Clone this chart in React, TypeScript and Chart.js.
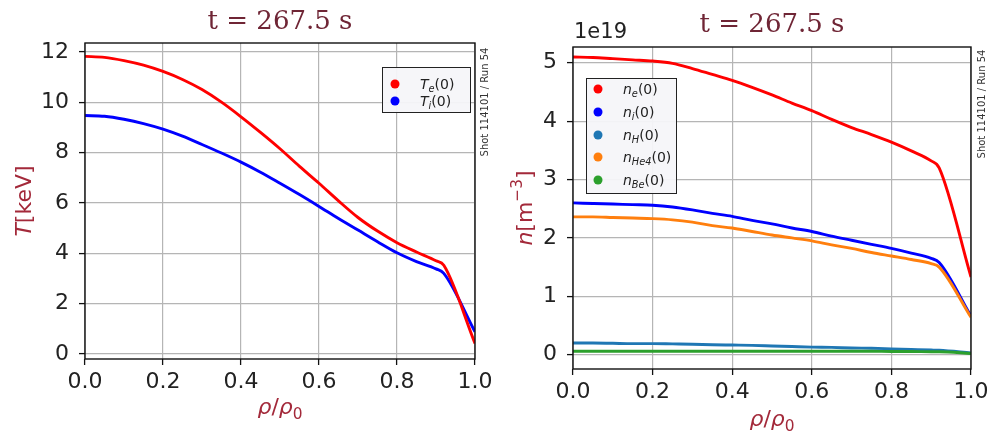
import React, { useEffect, useRef } from "react";
import { Chart, registerables } from "chart.js";
Chart.register(...registerables);

// ---------- data ----------
const rhoT = [0, 0.05, 0.1, 0.15, 0.2, 0.25, 0.3, 0.35, 0.4, 0.45, 0.5, 0.55, 0.6, 0.65, 0.7, 0.75, 0.8, 0.85, 0.9, 0.92, 1.0];
const teVals = [11.82, 11.78, 11.65, 11.47, 11.22, 10.9, 10.5, 10.0, 9.42, 8.8, 8.15, 7.45, 6.78, 6.08, 5.42, 4.88, 4.42, 4.05, 3.7, 3.52, 0.42];
const tiVals = [9.47, 9.44, 9.32, 9.15, 8.93, 8.65, 8.32, 7.98, 7.62, 7.22, 6.78, 6.33, 5.86, 5.38, 4.92, 4.46, 4.02, 3.67, 3.38, 3.2, 0.88];

const rhoN = [0, 0.05, 0.1, 0.15, 0.2, 0.25, 0.3, 0.35, 0.4, 0.45, 0.5, 0.55, 0.6, 0.65, 0.7, 0.75, 0.8, 0.85, 0.9, 0.92, 1.0];
const neVals = [5.1, 5.09, 5.07, 5.05, 5.03, 4.99, 4.9, 4.8, 4.7, 4.58, 4.45, 4.31, 4.18, 4.03, 3.89, 3.77, 3.64, 3.49, 3.32, 3.2, 1.33];
const niVals = [2.6, 2.59, 2.58, 2.57, 2.56, 2.53, 2.48, 2.42, 2.37, 2.3, 2.24, 2.17, 2.11, 2.03, 1.96, 1.89, 1.82, 1.74, 1.65, 1.58, 0.66];
const nHVals = [0.2, 0.2, 0.195, 0.19, 0.19, 0.185, 0.18, 0.17, 0.165, 0.16, 0.15, 0.14, 0.13, 0.125, 0.115, 0.11, 0.1, 0.09, 0.08, 0.075, 0.03];
const nHe4Vals = [2.36, 2.36, 2.35, 2.34, 2.33, 2.31, 2.27, 2.21, 2.17, 2.11, 2.05, 2.0, 1.95, 1.88, 1.82, 1.75, 1.69, 1.63, 1.56, 1.5, 0.64];
const nBeVals = [0.06, 0.06, 0.06, 0.06, 0.06, 0.06, 0.06, 0.06, 0.06, 0.06, 0.06, 0.06, 0.06, 0.06, 0.06, 0.06, 0.055, 0.055, 0.05, 0.05, 0.02];

const rhoTicks = [0, 0.2, 0.4, 0.6, 0.8, 1.0];
const tTicks = [0, 2, 4, 6, 8, 10, 12];
const nTicks = [0, 1, 2, 3, 4, 5];

const titleText = "t = 267.5 s";
const shotText = "Shot 114101 / Run 54";
const nScaleText = "1e19";

// ---------- helpers ----------
type Part = { t: string; it?: boolean; sub?: boolean; sup?: boolean };
const FONT = '"DejaVu Sans", sans-serif';
function pFont(p: Part, size: number) {
  const s = p.sub || p.sup ? size * 0.7 : size;
  return `${p.it ? "italic " : ""}${s}px ${FONT}`;
}
function measureRich(ctx: CanvasRenderingContext2D, parts: Part[], size: number) {
  let w = 0;
  for (const p of parts) {
    ctx.font = pFont(p, size);
    w += ctx.measureText(p.t).width;
  }
  return w;
}
function drawRich(ctx: CanvasRenderingContext2D, parts: Part[], x: number, y: number, size: number, color: string) {
  ctx.fillStyle = color;
  ctx.textBaseline = "alphabetic";
  ctx.textAlign = "left";
  let cx = x;
  for (const p of parts) {
    ctx.font = pFont(p, size);
    const dy = p.sub ? size * 0.22 : p.sup ? -size * 0.42 : 0;
    ctx.fillText(p.t, cx, y + dy);
    cx += ctx.measureText(p.t).width;
  }
}

type LegendItem = { color: string; parts: Part[] };
type Deco = {
  title: string;
  titleY: number;
  ylabel: Part[];
  ylabelX: number;
  xlabel: Part[];
  xlabelY: number;
  legend: LegendItem[];
  legendBox: { x: number; y: number; w: number; h: number };
  legendRows: number[];
  legendDotX: number;
  legendTextX: number;
  shotX: number;
  shotY: number;
  extra?: { text: string; x: number; y: number };
};

const labelColor = "#a3293a";
const titleColor = "#6f2535";

function makeDecoPlugin(d: Deco) {
  return {
    id: "deco",
    afterDatasetsDraw(chart: any) {
      const ctx: CanvasRenderingContext2D = chart.ctx;
      const a = chart.chartArea;
      ctx.save();
      // frame
      ctx.strokeStyle = "#111";
      ctx.lineWidth = 1.4;
      ctx.strokeRect(a.left, a.top, a.right - a.left, a.bottom - a.top);
      // title
      ctx.font = `26px "DejaVu Serif", serif`;
      ctx.fillStyle = titleColor;
      ctx.textAlign = "center";
      ctx.textBaseline = "middle";
      ctx.fillText(d.title, (a.left + a.right) / 2, d.titleY);
      // x label
      const xs = 22;
      const xw = measureRich(ctx, d.xlabel, xs);
      drawRich(ctx, d.xlabel, (a.left + a.right) / 2 - xw / 2, d.xlabelY + xs * 0.35, xs, labelColor);
      // y label (rotated)
      const ys = 22;
      const yw = measureRich(ctx, d.ylabel, ys);
      ctx.save();
      ctx.translate(d.ylabelX, (a.top + a.bottom) / 2);
      ctx.rotate(-Math.PI / 2);
      drawRich(ctx, d.ylabel, -yw / 2, ys * 0.35, ys, labelColor);
      ctx.restore();
      // shot text
      ctx.save();
      ctx.translate(d.shotX, d.shotY);
      ctx.rotate(-Math.PI / 2);
      ctx.font = `10px ${FONT}`;
      ctx.fillStyle = "#333";
      ctx.textAlign = "center";
      ctx.textBaseline = "middle";
      ctx.fillText(shotText, 0, 0);
      ctx.restore();
      // extra (1e19)
      if (d.extra) {
        ctx.font = `21px ${FONT}`;
        ctx.fillStyle = "#222";
        ctx.textAlign = "left";
        ctx.textBaseline = "middle";
        ctx.fillText(d.extra.text, d.extra.x, d.extra.y);
      }
      // legend
      const b = d.legendBox;
      ctx.fillStyle = "rgba(246,245,249,0.95)";
      ctx.fillRect(b.x, b.y, b.w, b.h);
      ctx.strokeStyle = "#222";
      ctx.lineWidth = 1;
      ctx.strokeRect(b.x + 0.5, b.y + 0.5, b.w, b.h);
      d.legend.forEach((it, i) => {
        const ry = d.legendRows[i];
        ctx.beginPath();
        ctx.fillStyle = it.color;
        ctx.arc(d.legendDotX, ry, 4.5, 0, Math.PI * 2);
        ctx.fill();
        drawRich(ctx, it.parts, d.legendTextX, ry + 14 * 0.36, 14, "#222");
      });
      ctx.restore();
    },
  };
}

function scales(yMin: number, yMax: number, yTicks: number[], yWidth: number, xHeight: number) {
  const grid = { color: "#b5b5b5", lineWidth: 1.2, tickColor: "#111", tickLength: 6, tickWidth: 1.3, drawTicks: true };
  return {
    x: {
      type: "linear",
      min: 0,
      max: 1,
      grid,
      border: { display: false },
      afterBuildTicks: (s: any) => {
        s.ticks = rhoTicks.map((v) => ({ value: v }));
      },
      afterFit: (s: any) => {
        s.height = xHeight;
        s.paddingLeft = 0;
        s.paddingRight = 0;
      },
      ticks: {
        color: "#222",
        font: { family: FONT, size: 22 },
        padding: 4,
        maxRotation: 0,
        autoSkip: false,
        callback: (v: any) => Number(v).toFixed(1),
      },
    },
    y: {
      type: "linear",
      min: yMin,
      max: yMax,
      grid,
      border: { display: false },
      afterBuildTicks: (s: any) => {
        s.ticks = yTicks.map((v) => ({ value: v }));
      },
      afterFit: (s: any) => {
        s.width = yWidth;
        s.paddingTop = 0;
        s.paddingBottom = 0;
      },
      ticks: {
        color: "#222",
        font: { family: FONT, size: 22 },
        padding: 10,
        autoSkip: false,
        callback: (v: any) => String(v),
      },
    },
  };
}

function ds(xs: number[], ys: number[], color: string) {
  return {
    data: xs.map((x, i) => ({ x, y: ys[i] })),
    borderColor: color,
    backgroundColor: color,
    borderWidth: 2.9,
    pointRadius: 0,
    cubicInterpolationMode: "monotone",
    fill: false,
  };
}

function TempChart() {
  const ref = useRef<HTMLCanvasElement>(null);
  useEffect(() => {
    const deco = makeDecoPlugin({
      title: titleText,
      titleY: 22,
      ylabel: [{ t: "T", it: true }, { t: "[keV]" }],
      ylabelX: 23,
      xlabel: [{ t: "ρ", it: true }, { t: "/" }, { t: "ρ", it: true }, { t: "0", sub: true }],
      xlabelY: 406,
      legend: [
        { color: "#ff0000", parts: [{ t: "T", it: true }, { t: "e", it: true, sub: true }, { t: "(0)" }] },
        { color: "#0000ff", parts: [{ t: "T", it: true }, { t: "i", it: true, sub: true }, { t: "(0)" }] },
      ],
      legendBox: { x: 382, y: 67, w: 88, h: 45 },
      legendRows: [84, 101],
      legendDotX: 395,
      legendTextX: 420,
      shotX: 485,
      shotY: 102,
    });
    const chart = new Chart(ref.current!, {
      type: "line",
      data: {
        datasets: [ds(rhoT, teVals, "#ff0000"), ds(rhoT, tiVals, "#0000ff")],
      } as any,
      options: {
        responsive: false,
        animation: false,
        devicePixelRatio: 1,
        layout: { padding: { top: 43, right: 20, left: 0, bottom: 0 } },
        plugins: { legend: { display: false }, tooltip: { enabled: false }, title: { display: false } },
        scales: scales(-0.2, 12.35, tTicks, 85, 75) as any,
      },
      plugins: [deco],
    });
    return () => chart.destroy();
  }, []);
  return <canvas ref={ref} width={495} height={434} style={{ position: "absolute", left: 0, top: 0 }} />;
}

function DensChart() {
  const ref = useRef<HTMLCanvasElement>(null);
  useEffect(() => {
    const deco = makeDecoPlugin({
      title: titleText,
      titleY: 25,
      ylabel: [{ t: "n", it: true }, { t: "[m" }, { t: "−3", sup: true }, { t: "]" }],
      ylabelX: 29,
      xlabel: [{ t: "ρ", it: true }, { t: "/" }, { t: "ρ", it: true }, { t: "0", sub: true }],
      xlabelY: 418,
      legend: [
        { color: "#ff0000", parts: [{ t: "n", it: true }, { t: "e", it: true, sub: true }, { t: "(0)" }] },
        { color: "#0000ff", parts: [{ t: "n", it: true }, { t: "i", it: true, sub: true }, { t: "(0)" }] },
        { color: "#1f77b4", parts: [{ t: "n", it: true }, { t: "H", it: true, sub: true }, { t: "(0)" }] },
        { color: "#ff7f0e", parts: [{ t: "n", it: true }, { t: "He4", it: true, sub: true }, { t: "(0)" }] },
        { color: "#2ca02c", parts: [{ t: "n", it: true }, { t: "Be", it: true, sub: true }, { t: "(0)" }] },
      ],
      legendBox: { x: 91, y: 78, w: 90, h: 115 },
      legendRows: [89, 112, 135, 157, 180],
      legendDotX: 103,
      legendTextX: 128,
      shotX: 487,
      shotY: 104,
      extra: { text: nScaleText, x: 79, y: 33 },
    });
    const chart = new Chart(ref.current!, {
      type: "line",
      data: {
        datasets: [
          ds(rhoN, nBeVals, "#2ca02c"),
          ds(rhoN, nHVals, "#1f77b4"),
          ds(rhoN, nHe4Vals, "#ff7f0e"),
          ds(rhoN, niVals, "#0000ff"),
          ds(rhoN, neVals, "#ff0000"),
        ],
      } as any,
      options: {
        responsive: false,
        animation: false,
        devicePixelRatio: 1,
        layout: { padding: { top: 47, right: 19, left: 0, bottom: 0 } },
        plugins: { legend: { display: false }, tooltip: { enabled: false }, title: { display: false } },
        scales: scales(-0.245, 5.27, nTicks, 78, 65) as any,
      },
      plugins: [deco],
    });
    return () => chart.destroy();
  }, []);
  return <canvas ref={ref} width={495} height={434} style={{ position: "absolute", left: 495, top: 0 }} />;
}

export default function App() {
  return (
    <div style={{ position: "absolute", left: 0, top: 0, width: 990, height: 434, background: "#fff", overflow: "hidden" }}>
      <TempChart />
      <DensChart />
    </div>
  );
}
